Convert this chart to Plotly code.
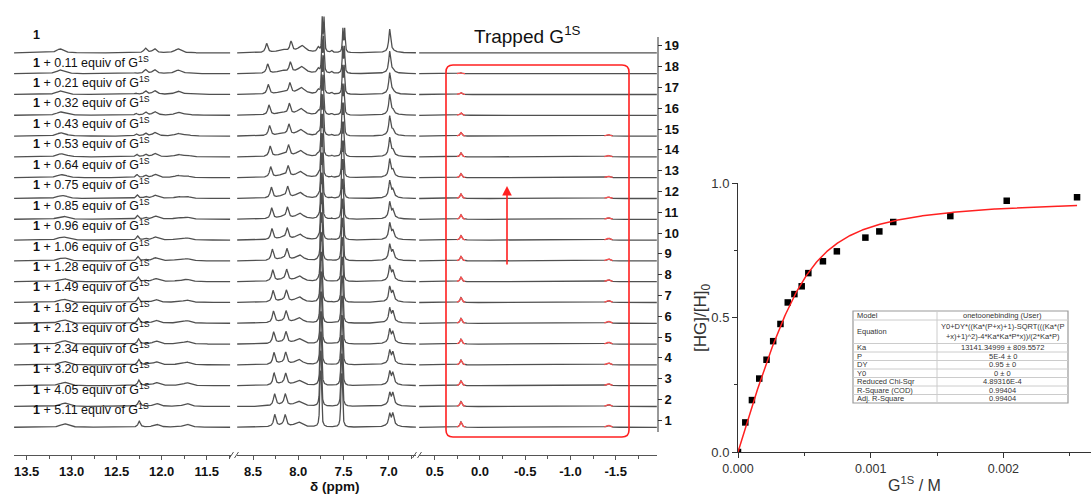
import numpy as np
import plotly.graph_objects as go

W, H = 1091, 495
ROW_PX = 20.8          # vertical spacing of stacked spectra (pixels)


def px(x):
    return x / W


def py(y):
    return 1 - y / H


# ------------------------------------------------------------------ data
equiv = [0.11, 0.21, 0.32, 0.43, 0.53, 0.64, 0.75, 0.85, 0.96, 1.06,
         1.28, 1.49, 1.92, 2.13, 2.34, 3.20, 4.05, 5.11]
row_numbers = list(range(19, 0, -1))          # top to bottom
# fraction of host in the complexed state, per spectrum (top -> bottom)
row_fraction = [0.0, 0.12, 0.20, 0.29, 0.36, 0.43, 0.50, 0.58, 0.62, 0.65,
                0.70, 0.75, 0.79, 0.84, 0.86, 0.90, 0.92, 0.98, 1.0]
# heights (px) of the red "trapped guest" peaks, per spectrum (top -> bottom)
trapped_a_px = [0, 1.0, 2.0, 2.5, 3.5, 4.0, 4.0, 4.5, 4.5, 4.5,
                4.5, 4.5, 5.0, 5.0, 5.0, 5.0, 5.0, 5.0, 5.5]
trapped_b_px = [0, 0, 0, 0, 1.5, 1.5, 1.5, 1.5, 1.5, 2.0,
                2.0, 2.0, 2.0, 2.0, 2.0, 2.0, 2.0, 2.0, 2.0]
trapped_ppm = [0.21, -1.42]
trapped_hw = [0.012, 0.02]

# peaks: (ppm free, ppm complexed, height free px, height complexed px, half width ppm)
seg1_peaks = [
    (13.13, 13.13, 4.0, 0.0, 0.045),
    (13.08, 13.08, 0.0, 3.5, 0.05),
    (12.18, 12.18, 4.5, 0.0, 0.02),
    (12.08, 12.08, 4.0, 0.0, 0.025),
    (11.82, 11.82, 4.0, 0.0, 0.04),
    (12.30, 12.25, 0.0, 6.0, 0.015),
    (12.06, 12.06, 0.0, 3.0, 0.04),
    (11.72, 11.72, 0.0, 3.0, 0.045),
]
seg2_peaks = [
    (8.35, 8.26, 9.0, 12.0, 0.015),
    (8.18, 8.18, 3.0, 1.5, 0.06),
    (8.08, 8.145, 10.0, 11.0, 0.015),
    (7.96, 8.00, 7.0, 5.0, 0.05),
    (7.78, 7.78, 5.0, 0.0, 0.015),
    (7.735, 7.758, 33.0, 44.0, 0.006),
    (7.715, 7.748, 33.0, 44.0, 0.006),
    (7.63, 7.63, 2.0, 0.0, 0.01),
    (7.507, 7.525, 23.0, 42.0, 0.006),
    (7.487, 7.515, 23.0, 42.0, 0.006),
    (6.99, 6.99, 22.0, 10.0, 0.012),
    (6.955, 6.955, 0.0, 10.0, 0.012),
    (6.97, 6.97, 2.0, 4.0, 0.05),
]

conc_M = [0.0, 5.5e-5, 1.05e-4, 1.6e-4, 2.15e-4, 2.65e-4, 3.2e-4, 3.75e-4,
          4.25e-4, 4.8e-4, 5.3e-4, 6.4e-4, 7.45e-4, 9.6e-4, 1.065e-3,
          1.17e-3, 1.6e-3, 2.025e-3, 2.555e-3]
hg_ratio = [0.0, 0.110, 0.193, 0.273, 0.343, 0.412, 0.476, 0.556, 0.587,
            0.616, 0.665, 0.709, 0.746, 0.797, 0.820, 0.855, 0.877, 0.934,
            0.947]

fit_Ka = 13141.34999
fit_P = 5e-4
fit_DY = 0.95
fit_Y0 = 0.0

table_rows = [
    ("Model", "onetoonebinding (User)"),
    ("Equation", "Y0+DY*((Ka*(P+x)+1)-SQRT(((Ka*(P<br>+x)+1)^2)-4*Ka*Ka*P*x))/(2*Ka*P)"),
    ("Ka", "13141.34999 ± 809.5572"),
    ("P", "5E-4 ± 0"),
    ("DY", "0.95 ± 0"),
    ("Y0", "0 ± 0"),
    ("Reduced Chi-Sqr", "4.89316E-4"),
    ("R-Square (COD)", "0.99404"),
    ("Adj. R-Square", "0.99404"),
]

# ------------------------------------------------------------------ helpers
FONT = "Arial, Liberation Sans, sans-serif"
LINE_COL = "#505050"


def spectrum(grid, peaks, f):
    y = np.zeros_like(grid)
    for p0, p1, h0, h1, hw in peaks:
        pos = p0 + (p1 - p0) * f
        h = h0 * (1 - f) + h1 * f
        if h > 0:
            y += h / (1 + ((grid - pos) / hw) ** 2)
    return y / ROW_PX


def lor(grid, pos, h, hw):
    return h / (1 + ((grid - pos) / hw) ** 2) / ROW_PX


seg_ranges = {
    "x": (13.641, 11.23),
    "x2": (8.677, 6.699),
    "x3": (0.674, -1.956),
}
seg_domains = {
    "x": (14, 231),
    "x2": (237, 416),
    "x3": (419, 657),
}

fig = go.Figure()

grids = {
    "x": np.linspace(13.64, 11.24, 700),
    "x2": np.linspace(8.675, 6.70, 1800),
    "x3": np.linspace(0.672, -1.954, 900),
}

for ax, peaks in (("x", seg1_peaks), ("x2", seg2_peaks), ("x3", [])):
    g = grids[ax]
    xs, ys = [], []
    for i, r in enumerate(row_numbers):
        f = row_fraction[i]
        yy = r + spectrum(g, peaks, f)
        if ax == "x3":
            yy = yy + lor(g, trapped_ppm[0], trapped_a_px[i], trapped_hw[0]) \
                 + lor(g, trapped_ppm[1], trapped_b_px[i], trapped_hw[1])
        xs.extend(g.tolist() + [None])
        ys.extend(yy.tolist() + [None])
    fig.add_trace(go.Scatter(x=xs, y=ys, xaxis=ax, yaxis="y", mode="lines",
                             line=dict(color=LINE_COL, width=1.3),
                             hoverinfo="skip", showlegend=False))

# red overlay of trapped guest peaks
xs, ys = [], []
for i, r in enumerate(row_numbers):
    for k in range(2):
        hgt = (trapped_a_px, trapped_b_px)[k][i]
        if hgt <= 0:
            continue
        g = np.linspace(trapped_ppm[k] + 0.045, trapped_ppm[k] - 0.045, 60)
        yy = r + lor(g, trapped_ppm[0], trapped_a_px[i], trapped_hw[0]) \
             + lor(g, trapped_ppm[1], trapped_b_px[i], trapped_hw[1])
        xs.extend(g.tolist() + [None])
        ys.extend(yy.tolist() + [None])
fig.add_trace(go.Scatter(x=xs, y=ys, xaxis="x3", yaxis="y", mode="lines",
                         line=dict(color="#ff5050", width=1.3),
                         hoverinfo="skip", showlegend=False))

# titration data + fit
xf = np.linspace(0, max(conc_M), 400)
b = fit_Ka * (fit_P + xf) + 1
yf = fit_Y0 + fit_DY * (b - np.sqrt(b ** 2 - 4 * fit_Ka ** 2 * fit_P * xf)) / (2 * fit_Ka * fit_P)
fig.add_trace(go.Scatter(x=conc_M, y=hg_ratio, xaxis="x4", yaxis="y2",
                         mode="markers", cliponaxis=True,
                         marker=dict(symbol="square", size=6.5, color="black"),
                         showlegend=False))
fig.add_trace(go.Scatter(x=xf, y=yf, xaxis="x4", yaxis="y2", mode="lines",
                         line=dict(color="#ff2020", width=1.5),
                         showlegend=False))

# ------------------------------------------------------------------ axes
tick_font = dict(family=FONT, size=13, color="#111")


def seg_axis(ax, vals):
    d0, d1 = seg_domains[ax]
    lo, hi = seg_ranges[ax]
    minor = [v - 0.25 for v in vals] + [vals[0] + 0.25]
    minor = [m for m in sorted(set(minor))
             if min(lo, hi) < m < max(lo, hi) and m not in vals]
    return dict(domain=[px(d0), px(d1)], range=[lo, hi], anchor="y",
                automargin=False,
                showline=True, linecolor="#555", linewidth=1,
                ticks="outside", ticklen=4, tickcolor="#555",
                tickmode="array", tickvals=vals,
                ticktext=["<b>%.1f</b>" % v for v in vals],
                tickfont=tick_font, showgrid=False, zeroline=False,
                minor=dict(tickmode="array", tickvals=minor, ticks="outside",
                           ticklen=3, tickcolor="#555", showgrid=False))


ypx_bottom, ypx_top = 455, 0
base1_px = 427.3
y_lo = 1 + (base1_px - ypx_bottom) / ROW_PX
y_hi = 1 + (base1_px - ypx_top) / ROW_PX

fig.update_layout(
    template="none",
    width=W, height=H, margin=dict(l=0, r=0, t=0, b=0, pad=0),
    autosize=False, showlegend=False,
    paper_bgcolor="white", plot_bgcolor="rgba(0,0,0,0)",
    font=dict(family=FONT, color="#111"),
    xaxis=seg_axis("x", [13.5, 13.0, 12.5, 12.0, 11.5]),
    xaxis2=seg_axis("x2", [8.5, 8.0, 7.5, 7.0]),
    xaxis3=dict(seg_axis("x3", [0.5, 0.0, -0.5, -1.0, -1.5]),
                ticktext=["<b>0.5</b>", "<b>0.0</b>", "<b>-0.5</b>",
                          "<b>-1.0</b>", "<b>-1.5</b>"]),
    yaxis=dict(domain=[py(ypx_bottom), py(ypx_top)], range=[y_lo, y_hi],
               anchor="x3", side="right", showline=False, showgrid=False,
               automargin=False,
               zeroline=False, ticks="outside", ticklen=4, tickcolor="#333",
               tickmode="array", tickvals=[r + 0.34 for r in row_numbers],
               ticktext=["<b>%d</b>" % r for r in row_numbers],
               tickfont=tick_font),
    xaxis4=dict(domain=[px(738), px(1091)], range=[0, (1091 - 738) / 132.7 * 0.001],
                anchor="y2", automargin=False,
                showline=True, linecolor="#333", linewidth=1,
                ticks="outside", ticklen=5, tickcolor="#333",
                tickmode="array", tickvals=[0, 0.001, 0.002],
                ticktext=["0.000", "0.001", "0.002"],
                tickfont=dict(family=FONT, size=12.5, color="#333"),
                minor=dict(tickmode="array", tickvals=[0.0005, 0.0015, 0.0025],
                           ticks="outside", ticklen=3, tickcolor="#333"),
                showgrid=False, zeroline=False,
                title=dict(text="G<sup>1S</sup> / M", standoff=4,
                           font=dict(family=FONT, size=16, color="#333"))),
    yaxis2=dict(domain=[py(452), py(183)], range=[0, 1],
                anchor="x4", automargin=False,
                showline=True, linecolor="#333", linewidth=1,
                ticks="outside", ticklen=5, tickcolor="#333",
                tickmode="array", tickvals=[0, 0.5, 1.0],
                ticktext=["0.0", "0.5", "1.0"],
                tickfont=dict(family=FONT, size=13, color="#333"),
                minor=dict(tickmode="array", tickvals=[0.25, 0.75],
                           ticks="outside", ticklen=3, tickcolor="#333"),
                showgrid=False, zeroline=False),
)

shapes = []
ann = []

# y title of the titration plot
ann.append(dict(xref="paper", yref="paper", x=px(702), y=py(318),
                text="[HG]/[H]<sub>0</sub>", textangle=-90, showarrow=False,
                xanchor="center", yanchor="middle",
                font=dict(family=FONT, size=17, color="#333")))

# right vertical axis line of the stack
shapes.append(dict(type="line", xref="paper", yref="paper",
                   x0=px(658), x1=px(658), y0=py(37), y1=py(432),
                   line=dict(color="#333", width=1)))
# axis break marks
for xb in (229.5, 412.5):
    for dx in (0, 5):
        shapes.append(dict(type="line", xref="paper", yref="paper",
                           x0=px(xb + dx), x1=px(xb + dx + 4),
                           y0=py(458), y1=py(452),
                           line=dict(color="#555", width=1)))
# red rounded box
x0, x1, y0, y1, rr = 446, 629, 65, 437, 7
path = (f"M {px(x0 + rr)} {py(y0)} L {px(x1 - rr)} {py(y0)} "
        f"Q {px(x1)} {py(y0)} {px(x1)} {py(y0 + rr)} "
        f"L {px(x1)} {py(y1 - rr)} Q {px(x1)} {py(y1)} {px(x1 - rr)} {py(y1)} "
        f"L {px(x0 + rr)} {py(y1)} Q {px(x0)} {py(y1)} {px(x0)} {py(y1 - rr)} "
        f"L {px(x0)} {py(y0 + rr)} Q {px(x0)} {py(y0)} {px(x0 + rr)} {py(y0)} Z")
shapes.append(dict(type="path", xref="paper", yref="paper", path=path,
                   line=dict(color="#ff2020", width=1.6)))

# red arrow
ann.append(dict(xref="paper", yref="paper", x=px(507), y=py(186), text="",
                showarrow=True, ax=0, ay=80, arrowhead=2, arrowsize=1.2,
                arrowwidth=1.6, arrowcolor="#ff2020"))

# left spectrum labels
LBL_FONT = dict(family=FONT, size=12.5, color="#111")
ann.append(dict(xref="paper", yref="paper", x=px(31), y=py(35), text="<b>1</b>",
                showarrow=False, xanchor="left", yanchor="middle", font=LBL_FONT))
for i, e in enumerate(equiv):
    ann.append(dict(xref="paper", yref="paper", x=px(31), y=py(61.5 + i * 20.45),
                    text="<b>1</b> + %.2f equiv of G<sup>1S</sup>" % e,
                    showarrow=False, xanchor="left", yanchor="middle",
                    font=LBL_FONT))

ann.append(dict(xref="paper", yref="paper", x=px(527), y=py(35),
                text="Trapped G<sup>1S</sup>", showarrow=False,
                xanchor="center", yanchor="middle",
                font=dict(family=FONT, size=19, color="#111")))
ann.append(dict(xref="paper", yref="paper", x=px(334), y=py(486),
                text="<b>δ (ppm)</b>", showarrow=False,
                xanchor="center", yanchor="middle",
                font=dict(family=FONT, size=13.5, color="#111")))

# fit table
tx0, tx1, tcol = 853, 1068, 937
bounds = [311, 320, 343.5, 352, 360.5, 369, 377.5, 386, 394.5, 403]
shapes.append(dict(type="rect", xref="paper", yref="paper",
                   x0=px(tx0), x1=px(tx1), y0=py(bounds[0]), y1=py(bounds[-1]),
                   line=dict(color="#999", width=1.2), fillcolor="white"))
shapes.append(dict(type="line", xref="paper", yref="paper",
                   x0=px(tcol), x1=px(tcol), y0=py(bounds[0]), y1=py(bounds[-1]),
                   line=dict(color="#ccc", width=1)))
for bb in bounds[1:-1]:
    shapes.append(dict(type="line", xref="paper", yref="paper",
                       x0=px(tx0), x1=px(tx1), y0=py(bb), y1=py(bb),
                       line=dict(color="#ccc", width=1)))
tfont = dict(family=FONT, size=7.5, color="#333")
for j, (k, v) in enumerate(table_rows):
    yc = (bounds[j] + bounds[j + 1]) / 2
    ann.append(dict(xref="paper", yref="paper", x=px(tx0 + 2), y=py(yc), text=k,
                    showarrow=False, xanchor="left", yanchor="middle", font=tfont))
    ann.append(dict(xref="paper", yref="paper", x=px((tcol + tx1) / 2), y=py(yc),
                    text=v, showarrow=False, xanchor="center", yanchor="middle",
                    font=tfont))

fig.update_layout(shapes=shapes, annotations=ann)
fig.write_html(
    "out.html",
    config={"displayModeBar": False},
    post_script="document.body.style.margin='0px';"
                "document.body.style.padding='0px';"
                "document.body.style.overflow='hidden';",
)
